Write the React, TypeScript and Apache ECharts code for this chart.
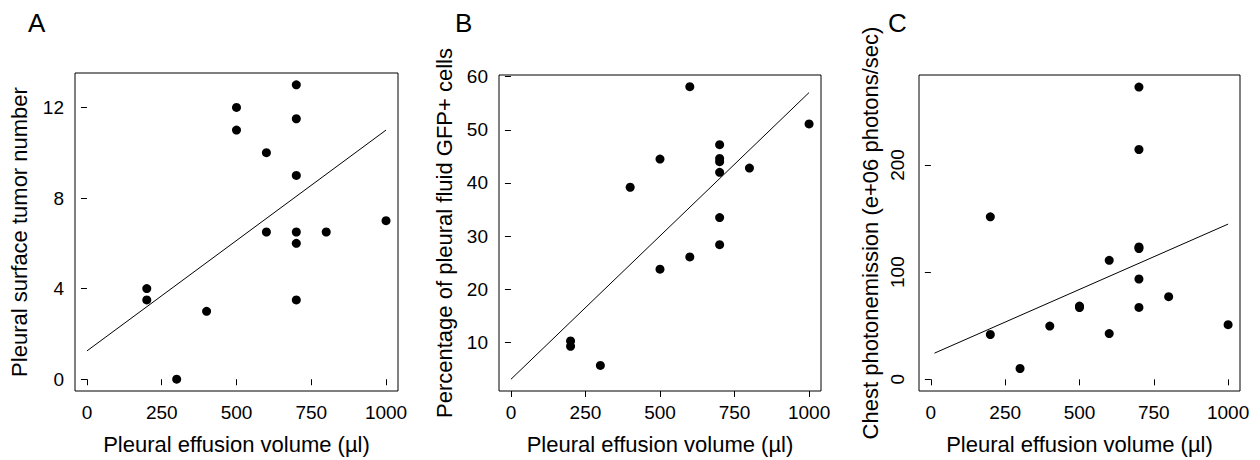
import React, { useEffect, useRef } from "react";
import * as echarts from "echarts";

// ---- data ----
const xTicks = [0, 250, 500, 750, 1000];

const aX = [200, 200, 300, 400, 500, 500, 600, 600, 700, 700, 700, 700, 700, 700, 800, 1000];
const aY = [4, 3.5, 0, 3, 12, 11, 10, 6.5, 13, 11.5, 9, 6.5, 6, 3.5, 6.5, 7];
const aFitX = [0, 1000];
const aFitY = [1.25, 11.0];
const aYTicks = [0, 4, 8, 12];

const bX = [200, 200, 300, 400, 500, 500, 600, 600, 700, 700, 700, 700, 700, 700, 800, 1000];
const bY = [10.3, 9.3, 5.7, 39.2, 44.5, 23.8, 58.1, 26.1, 47.2, 44.6, 44.0, 42.0, 33.5, 28.4, 42.8, 51.1];
const bFitX = [0, 1000];
const bFitY = [3.1, 57.0];
const bYTicks = [10, 20, 30, 40, 50, 60];

const cX = [200, 200, 300, 400, 500, 500, 600, 600, 700, 700, 700, 700, 700, 700, 800, 1000];
const cY = [151.6, 41.8, 10.1, 49.7, 68.3, 67.0, 111.0, 42.7, 272.6, 214.4, 123.5, 122.0, 93.6, 67.1, 77.1, 51.0];
const cFitX = [12, 1000];
const cFitY = [24.4, 144.8];
const cYTicks = [0, 100, 200];

const panelLetters = ["A", "B", "C"];
const xTitle = "Pleural effusion volume (µl)";
const yTitles = [
  "Pleural surface tumor number",
  "Percentage of pleural fluid GFP+ cells",
  "Chest photonemission (e+06 photons/sec)",
];

const FONT = "'Liberation Sans', Arial, sans-serif";

const zip = (xs: number[], ys: number[]) => xs.map((x, i) => [x, ys[i]]);

export default function App() {
  const ref = useRef<HTMLDivElement>(null);

  useEffect(() => {
    if (!ref.current) return;
    const chart = echarts.init(ref.current, null, { renderer: "svg" });

    const grids = [
      { left: 75, top: 73, width: 323, height: 324 },
      { left: 499, top: 75, width: 322, height: 322 },
      { left: 919, top: 75, width: 321, height: 322 },
    ];
    const yRanges = [
      [-0.52, 13.52],
      [0.9, 60.3],
      [-10.9, 283.9],
    ];
    const yTickSets = [aYTicks, bYTicks, cYTicks];
    const yNameGaps = [45, 44, 38];
    const pts = [zip(aX, aY), zip(bX, bY), zip(cX, cY)];
    const fits = [zip(aFitX, aFitY), zip(bFitX, bFitY), zip(cFitX, cFitY)];
    const letterX = [28, 455, 888];

    const option: any = {
      animation: false,
      backgroundColor: "#fff",
      textStyle: { fontFamily: FONT },
      grid: grids.map((g) => ({
        ...g,
        show: true,
        borderColor: "#000",
        borderWidth: 1,
        backgroundColor: "transparent",
        containLabel: false,
      })),
      xAxis: grids.map((_, i) => ({
        type: "value",
        gridIndex: i,
        min: -40,
        max: 1040,
        axisLine: { show: false },
        splitLine: { show: false },
        axisTick: {
          show: true,
          inside: false,
          length: 6,
          customValues: xTicks,
          lineStyle: { color: "#000", width: 1 },
        },
        axisLabel: {
          customValues: xTicks,
          formatter: (v: number) => String(v),
          color: "#000",
          fontSize: 19,
          fontFamily: FONT,
          margin: 12,
        },
        name: xTitle,
        nameLocation: "middle",
        nameGap: 42,
        nameTextStyle: { color: "#000", fontSize: 22, fontFamily: FONT },
      })),
      yAxis: grids.map((_, i) => ({
        type: "value",
        gridIndex: i,
        min: yRanges[i][0],
        max: yRanges[i][1],
        axisLine: { show: false },
        splitLine: { show: false },
        axisTick: {
          show: true,
          inside: false,
          length: 6,
          customValues: yTickSets[i],
          lineStyle: { color: "#000", width: 1 },
        },
        axisLabel: {
          customValues: yTickSets[i],
          formatter: (v: number) => String(v),
          color: "#000",
          fontSize: 19,
          fontFamily: FONT,
          margin: i === 2 ? 12 : 11,
          rotate: i === 2 ? 90 : 0,
        },
        name: yTitles[i],
        nameLocation: "middle",
        nameGap: yNameGaps[i],
        nameTextStyle: { color: "#000", fontSize: 22, fontFamily: FONT },
      })),
      series: [
        ...pts.map((d, i) => ({
          type: "scatter",
          xAxisIndex: i,
          yAxisIndex: i,
          data: d,
          symbol: "circle",
          symbolSize: 9,
          itemStyle: { color: "#000", opacity: 1 },
          silent: true,
        })),
        ...fits.map((d, i) => ({
          type: "line",
          xAxisIndex: i,
          yAxisIndex: i,
          data: d,
          symbol: "none",
          lineStyle: { color: "#000", width: 1 },
          silent: true,
        })),
      ],
      graphic: panelLetters.map((t, i) => ({
        type: "text",
        left: letterX[i],
        top: 10,
        style: { text: t, fontSize: 26, fontFamily: FONT, fill: "#000" },
      })),
    };

    chart.setOption(option);
    return () => chart.dispose();
  }, []);

  return (
    <div
      ref={ref}
      style={{ position: "fixed", left: 0, top: 0, width: 1260, height: 460 }}
    />
  );
}
